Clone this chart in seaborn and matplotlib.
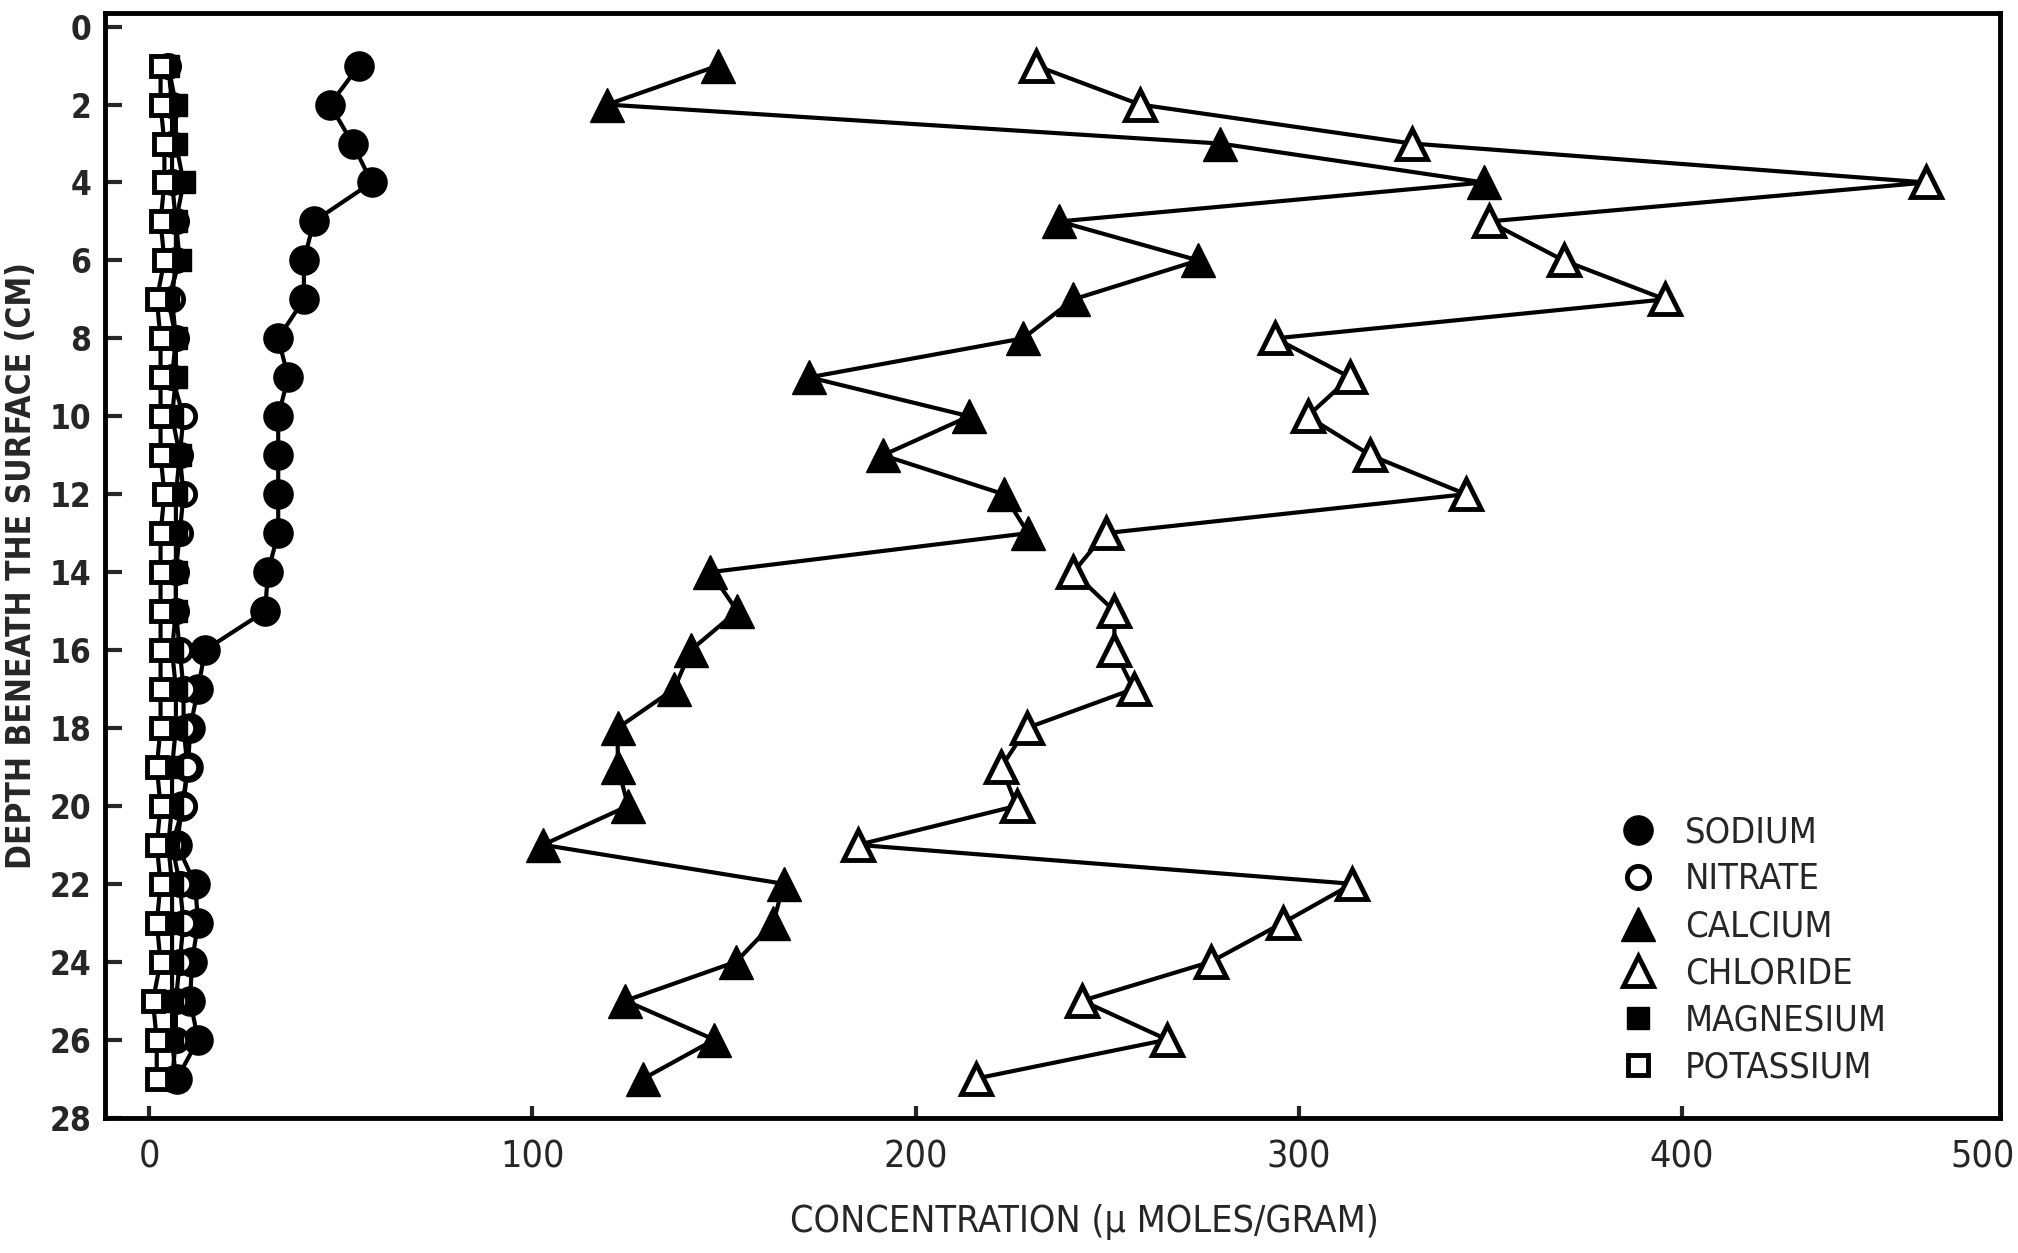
import numpy as np
import pandas as pd
import matplotlib
matplotlib.use("Agg")
import matplotlib.pyplot as plt
from matplotlib.lines import Line2D
import seaborn as sns

depth = list(range(1, 28))

sodium = [54.8, 47.2, 53.1, 58.1, 43.0, 40.4, 40.4, 33.7, 36.3, 33.7, 33.7, 33.7, 33.7,
          31.0, 30.3, 14.6, 12.8, 10.7, 10.2, 8.6, 7.3, 12.0, 12.8, 11.2, 10.7, 12.8, 7.3]
nitrate = [5, 6, 6, 6, 7, 7, 6, 7, 6, 9, 8, 9, 8, 7, 7, 8, 9, 9, 10, 9, 6, 8, 9, 8, 7, 7, 6]
calcium = [148.5, 119.6, 279.5, 348.3, 237.5, 273.8, 241.2, 228.1, 172.3, 214.0, 191.5,
           223.0, 229.4, 146.5, 153.5, 141.4, 137.0, 122.3, 122.3, 125.0, 102.8, 165.6,
           162.9, 153.2, 124.3, 147.5, 129.0]
chloride = [231.4, 258.6, 329.5, 463.8, 349.6, 369.1, 395.6, 293.9, 313.4, 302.3, 318.7,
            343.6, 249.6, 241.2, 251.9, 251.9, 256.9, 229.1, 222.4, 226.4, 185.0, 314.0,
            295.9, 277.1, 243.5, 265.7, 215.7]
magnesium = [5, 7, 7, 9, 7, 8, 5, 7, 7, 6, 8, 7, 7, 7, 7, 6, 7, 7, 6, 6, 5, 6, 6, 6, 6, 6, 7]
potassium = [3, 3, 4, 4, 3, 4, 2, 3, 3, 3, 3, 4, 3, 3, 3, 3, 3, 3, 2, 3, 2, 3, 2, 3, 1, 2, 2]

series_names = ["SODIUM", "NITRATE", "CALCIUM", "CHLORIDE", "MAGNESIUM", "POTASSIUM"]
x_ticks = [0, 100, 200, 300, 400]
x_tick_labels = ["0", "100", "200", "300", "400", "500"]
y_ticks = list(range(0, 29, 2))

sns.set_style("ticks")
plt.rcParams["font.family"] = ["DejaVu Sans"]
plt.rcParams["font.stretch"] = "condensed"

fig = plt.figure(figsize=(20.18, 12.53), dpi=100)
ax = fig.add_axes([105 / 2018, 1 - 1117.6 / 1253, (2000 - 105) / 2018, (1117.6 - 13) / 1253])

styles = {
    "SODIUM":    dict(marker="o", markersize=21, markerfacecolor="black", markeredgecolor="black", markeredgewidth=1),
    "NITRATE":   dict(marker="o", markersize=16, markerfacecolor="white", markeredgecolor="black", markeredgewidth=3.5),
    "CALCIUM":   dict(marker="^", markersize=24, markerfacecolor="black", markeredgecolor="black", markeredgewidth=1),
    "CHLORIDE":  dict(marker="^", markersize=21, markerfacecolor="white", markeredgecolor="black", markeredgewidth=3.5),
    "MAGNESIUM": dict(marker="s", markersize=16, markerfacecolor="black", markeredgecolor="black", markeredgewidth=1),
    "POTASSIUM": dict(marker="s", markersize=15, markerfacecolor="white", markeredgecolor="black", markeredgewidth=3.5),
}
values = {
    "SODIUM": sodium, "NITRATE": nitrate, "CALCIUM": calcium,
    "CHLORIDE": chloride, "MAGNESIUM": magnesium, "POTASSIUM": potassium,
}

for name in ["SODIUM", "NITRATE", "MAGNESIUM", "POTASSIUM", "CALCIUM", "CHLORIDE"]:
    df = pd.DataFrame({"conc": values[name], "depth": depth})
    sns.lineplot(data=df, x="conc", y="depth", orient="y", sort=False, estimator=None,
                 color="black", linewidth=3, ax=ax, **styles[name])

xmax = 483
ax.set_xlim(-11.5, xmax)
ax.set_ylim(28, -0.35)
ax.set_xticks(x_ticks + [478.5])
ax.set_xticklabels(x_tick_labels)
ax.xaxis.get_major_ticks()[-1].tick1line.set_visible(False)
ax.set_yticks(y_ticks)
ax.set_yticklabels([str(v) for v in y_ticks], fontweight="bold")
ax.tick_params(axis="x", direction="in", length=9, width=3, labelsize=27, pad=16)
ax.tick_params(axis="y", direction="in", length=12, width=3, labelsize=24, pad=10)
for sp in ax.spines.values():
    sp.set_linewidth(3.5)
    sp.set_color("black")

ax.set_xlabel("CONCENTRATION (μ MOLES/GRAM)", fontsize=27)
ax.xaxis.set_label_coords(0.517, -0.078)
ax.set_ylabel("DEPTH BENEATH THE SURFACE (CM)", fontsize=24, labelpad=8, fontweight="bold")

handles = [Line2D([0], [0], linestyle="none", color="black", **styles[n]) for n in series_names]
ax.legend(handles, series_names, loc="upper left", bbox_to_anchor=(0.79, 0.29),
          frameon=False, fontsize=26, handlelength=1.0, handletextpad=0.8,
          labelspacing=0.36, borderpad=0)

fig.savefig("out.png", dpi=100, facecolor="white")
